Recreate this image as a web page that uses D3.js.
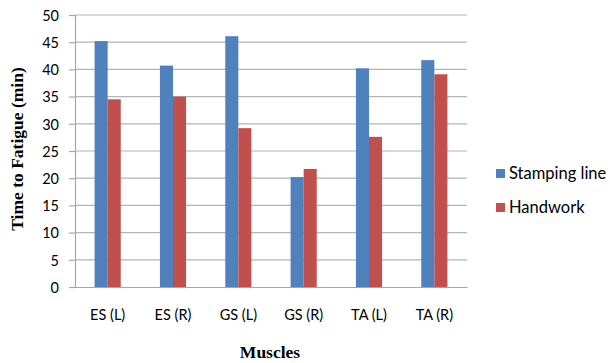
<!DOCTYPE html>
<html>
<head>
<meta charset="utf-8">
<script src="https://cdn.jsdelivr.net/npm/d3@7"></script>
<style>
  html, body { margin: 0; padding: 0; background: #fff; }
  svg { display: block; }
  .tick text { font-family: Lato, "Liberation Sans", sans-serif; font-size: 14.5px; fill: #000; }
  .title { font-family: "Liberation Serif", "Times New Roman", serif; font-weight: bold; font-size: 17.5px; fill: #000; }
  .legend text { font-family: Lato, "Liberation Sans", sans-serif; font-size: 16.5px; fill: #000; }
</style>
</head>
<body>
<svg id="chart" width="610" height="363"></svg>
<script>
// Muscle groups and time-to-fatigue values (minutes)
const categories = ["ES (L)", "ES (R)", "GS (L)", "GS (R)", "TA (L)", "TA (R)"];
const seriesNames = ["Stamping line", "Handwork"];
const stampingLine = [45.2, 40.7, 46.1, 20.2, 40.2, 41.7];
const handwork = [34.5, 35.0, 29.2, 21.7, 27.6, 39.1];
const yTicks = [0, 5, 10, 15, 20, 25, 30, 35, 40, 45, 50];
const colors = ["#4F81BD", "#C0504D"];

const svg = d3.select("#chart");
const margin = { left: 75, right: 143, top: 15, bottom: 76 };
const width = 610 - margin.left - margin.right;
const height = 363 - margin.top - margin.bottom;
const g = svg.append("g").attr("transform", `translate(${margin.left},${margin.top})`);

const x0 = d3.scaleBand().domain(categories).range([0, width]).paddingInner(0).paddingOuter(0);
const x1 = d3.scaleBand().domain(seriesNames).range([x0.bandwidth() * 0.3, x0.bandwidth() * 0.7]);
const y = d3.scaleLinear().domain([0, 50]).range([height, 0]);

// horizontal gridlines
g.append("g")
  .selectAll("line")
  .data(yTicks.filter(t => t > 0))
  .join("line")
  .attr("x1", 0).attr("x2", width)
  .attr("y1", d => y(d)).attr("y2", d => y(d))
  .attr("stroke", "#b4b4b4").attr("stroke-width", 1.2);

// y axis
const yAxis = g.append("g")
  .call(d3.axisLeft(y).tickValues(yTicks).tickSize(6).tickPadding(10).tickFormat(d3.format("d")));
yAxis.select(".domain").attr("stroke", "#a6a6a6").attr("stroke-width", 1.2);
yAxis.selectAll(".tick line").attr("stroke", "#a6a6a6").attr("stroke-width", 1.2);
yAxis.selectAll(".tick text").attr("dy", "0.36em");

// bars
const rows = categories.map((c, i) => ({ cat: c, values: [stampingLine[i], handwork[i]] }));
const groups = g.append("g").selectAll("g")
  .data(rows).join("g")
  .attr("transform", d => `translate(${x0(d.cat)},0)`);
groups.selectAll("rect")
  .data(d => d.values.map((v, j) => ({ name: seriesNames[j], value: v, j })))
  .join("rect")
  .attr("x", d => x1(d.name))
  .attr("width", x1.bandwidth())
  .attr("y", d => y(d.value))
  .attr("height", d => y(0) - y(d.value))
  .attr("fill", d => colors[d.j]);

// x axis
const xAxis = g.append("g")
  .attr("transform", `translate(0,${height})`)
  .call(d3.axisBottom(x0).tickSize(0).tickPadding(23));
xAxis.select(".domain").attr("stroke", "#a6a6a6").attr("stroke-width", 1.2);

// axis titles
svg.append("text").attr("class", "title")
  .attr("transform", `translate(23,${margin.top + 134}) rotate(-90)`)
  .attr("text-anchor", "middle")
  .text("Time to Fatigue (min)");
svg.append("text").attr("class", "title")
  .attr("x", 270).attr("y", 358)
  .attr("text-anchor", "middle")
  .text("Muscles");

// legend
const legend = svg.append("g").attr("class", "legend").attr("transform", "translate(496,169)");
seriesNames.forEach((name, i) => {
  const row = legend.append("g").attr("transform", `translate(0,${i * 34})`);
  row.append("rect").attr("width", 9).attr("height", 9).attr("fill", colors[i]);
  row.append("text").attr("x", 13).attr("y", 10).text(name);
});
</script>
</body>
</html>
